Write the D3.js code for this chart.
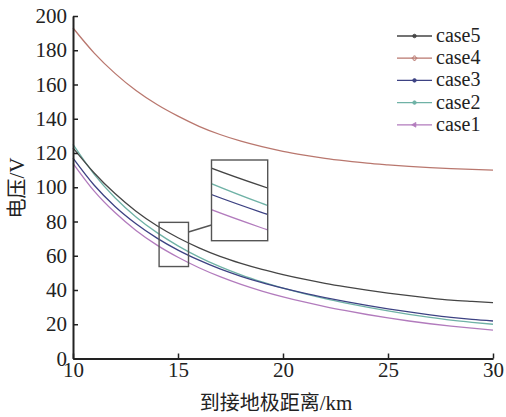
<!DOCTYPE html>
<html lang="zh-CN">
<head>
<meta charset="UTF-8">
<title>电压 - 到接地极距离</title>
<script src="https://d3js.org/d3.v7.min.js"></script>
<style>
  body { margin: 0; background: #fff; }
  svg { display: block; }
</style>
</head>
<body>
<svg width="506" height="417"></svg>
<script>
const distances = [10, 11, 12, 13, 14, 15, 16, 17, 18, 19, 20, 21, 22, 23, 24, 25, 26, 27, 28, 29, 30];
const case5 = [123, 108.5, 96.3, 86, 77.5, 70.5, 64.6, 59.6, 55.5, 52, 49, 46.3, 43.9, 41.8, 39.9, 38.2, 36.7, 35.3, 34.1, 33.3, 32.6];
const case4 = [193, 178.5, 166.5, 156.5, 148.3, 141.5, 135.6, 130.8, 126.9, 123.7, 121, 118.8, 116.9, 115.4, 114.1, 113.1, 112.2, 111.5, 110.9, 110.4, 110];
const case3 = [117, 101.3, 88.8, 78.7, 70.3, 63.3, 57.4, 52.3, 48, 44.3, 41.1, 38.2, 35.6, 33.2, 31, 29, 27.2, 25.5, 24, 22.8, 21.9];
const case2 = [125, 107.7, 93.9, 82.7, 73.5, 65.8, 59.2, 53.6, 48.8, 44.7, 41.1, 37.9, 35, 32.4, 30, 27.8, 25.8, 24, 22.4, 21.1, 20];
const case1 = [114, 97.9, 85.2, 74.8, 66.2, 59.1, 53, 47.8, 43.3, 39.4, 36, 33, 30.3, 27.9, 25.7, 23.7, 21.9, 20.3, 18.9, 17.7, 16.6];
const seriesNames = ["case5", "case4", "case3", "case2", "case1"];
const xTicks = [10, 15, 20, 25, 30];
const yTicks = [0, 20, 40, 60, 80, 100, 120, 140, 160, 180, 200];

const colors = { case5: "#454545", case4: "#b9776e", case3: "#3d4283", case2: "#6fb2a6", case1: "#b27bbd" };
const valuesByName = { case5, case4, case3, case2, case1 };
const serifFont = "Liberation Serif";
const cjkFont = "Noto Sans CJK SC";

const svg = d3.select("svg");
const margin = { top: 16, right: 13, bottom: 58.5, left: 73 };
const width = 506 - margin.left - margin.right;
const height = 417 - margin.top - margin.bottom;

const g = svg.append("g").attr("transform", `translate(${margin.left},${margin.top})`);

const x = d3.scaleLinear().domain([10, 30]).range([0, width]);
const y = d3.scaleLinear().domain([0, 200]).range([height, 0]);

const series = seriesNames.map(name => ({
  name,
  points: distances.map((d, i) => [d, valuesByName[name][i]])
}));

const line = d3.line()
  .x(d => x(d[0]))
  .y(d => y(d[1]))
  .curve(d3.curveMonotoneX);

// curves (case1 first so case5 ends on top)
g.selectAll("path.curve")
  .data(series.slice().reverse())
  .enter()
  .append("path")
  .attr("class", "curve")
  .attr("fill", "none")
  .attr("stroke", d => colors[d.name])
  .attr("stroke-width", 1.3)
  .attr("d", d => line(d.points));

// axes
const yAxis = g.append("g")
  .call(d3.axisLeft(y).tickValues(yTicks).tickSizeInner(-5).tickSizeOuter(0).tickPadding(6));
const xAxis = g.append("g")
  .attr("transform", `translate(0,${height})`)
  .call(d3.axisBottom(x).tickValues(xTicks).tickSizeInner(-5).tickSizeOuter(0).tickPadding(4));

[xAxis, yAxis].forEach(a => {
  a.attr("font-family", serifFont).attr("font-size", 21);
  a.select(".domain").attr("stroke", "#222").attr("stroke-width", 2);
  a.selectAll(".tick line").attr("stroke", "#222").attr("stroke-width", 1.5);
  a.selectAll("text").attr("fill", "#222");
});

// axis titles (latin part in serif, chinese part in CJK font)
const xTitle = svg.append("text")
  .attr("x", margin.left + width / 2 - 7)
  .attr("y", 410)
  .attr("text-anchor", "middle")
  .attr("font-size", 20)
  .attr("fill", "#222");
xTitle.append("tspan").attr("font-family", cjkFont).text("到接地极距离");
xTitle.append("tspan").attr("font-family", serifFont).attr("font-size", 21).text("/km");

const yTitle = svg.append("text")
  .attr("transform", "translate(24,188) rotate(-90)")
  .attr("text-anchor", "middle")
  .attr("font-size", 20)
  .attr("fill", "#222");
yTitle.append("tspan").attr("font-family", cjkFont).text("电压");
yTitle.append("tspan").attr("font-family", serifFont).attr("font-size", 21).text("/V");

// zoom inset
const zoomX = [14.3, 15.1];
const zoomY = [55.5, 77.5];
const box = { x: 211.5 - margin.left, y: 160 - margin.top, w: 56.2, h: 80.7 };

const ix = d3.scaleLinear().domain(zoomX).range([box.x, box.x + box.w]);
const iy = d3.scaleLinear().domain(zoomY).range([box.y + box.h, box.y]);

g.append("clipPath").attr("id", "inset-clip")
  .append("rect")
  .attr("x", box.x).attr("y", box.y).attr("width", box.w).attr("height", box.h);

const insetLine = d3.line()
  .x(d => ix(d[0]))
  .y(d => iy(d[1]))
  .curve(d3.curveMonotoneX);

g.append("rect")
  .attr("x", box.x).attr("y", box.y).attr("width", box.w).attr("height", box.h)
  .attr("fill", "#fff");

g.append("g")
  .attr("clip-path", "url(#inset-clip)")
  .selectAll("path")
  .data(series.filter(s => s.name !== "case4").reverse())
  .enter()
  .append("path")
  .attr("fill", "none")
  .attr("stroke", d => colors[d.name])
  .attr("stroke-width", 1.3)
  .attr("d", d => insetLine(d.points));

g.append("rect")
  .attr("x", box.x).attr("y", box.y).attr("width", box.w).attr("height", box.h)
  .attr("fill", "none").attr("stroke", "#555").attr("stroke-width", 1.4);

// small rectangle marking the zoomed region
const smallX = [14.1, 15.5];
const smallY = [53.7, 79.5];
g.append("rect")
  .attr("x", x(smallX[0]))
  .attr("y", y(smallY[1]))
  .attr("width", x(smallX[1]) - x(smallX[0]))
  .attr("height", y(smallY[0]) - y(smallY[1]))
  .attr("fill", "none").attr("stroke", "#555").attr("stroke-width", 1.4);

g.append("line")
  .attr("x1", x(smallX[1])).attr("y1", 232 - margin.top)
  .attr("x2", box.x).attr("y2", 225 - margin.top)
  .attr("stroke", "#555").attr("stroke-width", 1.4);

// legend
const legend = svg.append("g").attr("transform", "translate(397,36)");
const rows = legend.selectAll("g")
  .data(seriesNames)
  .enter()
  .append("g")
  .attr("transform", (d, i) => `translate(0,${i * 22.2})`);

rows.append("line")
  .attr("x1", 0).attr("x2", 35)
  .attr("stroke", d => colors[d])
  .attr("stroke-width", 1.3);

const markerType = {
  case5: d3.symbolCircle, case4: d3.symbolCross, case3: d3.symbolCircle,
  case2: d3.symbolCircle, case1: d3.symbolTriangle
};
rows.append("path")
  .attr("transform", d => d === "case1" ? "translate(17.5,0) rotate(-90)" : "translate(17.5,0)")
  .attr("d", d => d3.symbol().type(markerType[d]).size(d === "case4" ? 12 : 10)())
  .attr("fill", d => d === "case4" ? "none" : colors[d])
  .attr("stroke", d => colors[d])
  .attr("stroke-width", 0.8);

rows.append("text")
  .attr("font-family", serifFont)
  .attr("x", 39)
  .attr("y", 6)
  .attr("font-size", 20)
  .attr("fill", "#222")
  .text(d => d);
</script>
</body>
</html>
